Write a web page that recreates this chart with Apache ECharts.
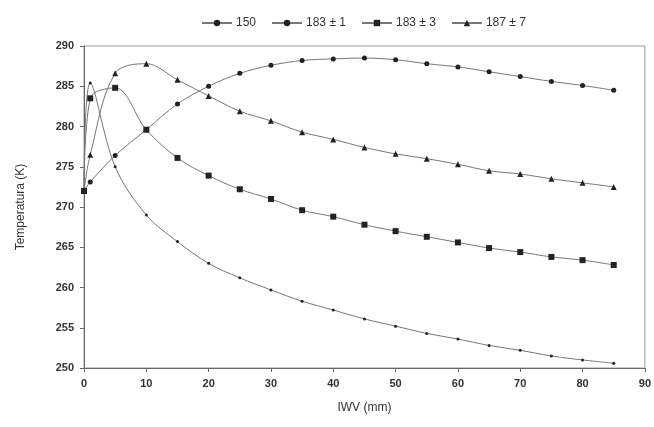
<!DOCTYPE html>
<html>
<head>
<meta charset="utf-8">
<script src="https://cdn.jsdelivr.net/npm/echarts@6/dist/echarts.min.js"></script>
<style>html,body{margin:0;padding:0;background:#fff}#c{width:654px;height:427px}</style>
</head>
<body>
<div id="c"></div>
<script>
var xs = [0, 1, 5, 10, 15, 20, 25, 30, 35, 40, 45, 50, 55, 60, 65, 70, 75, 80, 85];
var seriesNames = ['150', '183 ± 1', '183 ± 3', '187 ± 7'];
var s150 =  [272.0, 273.1, 276.4, 279.6, 282.8, 285.0, 286.6, 287.6, 288.2, 288.4, 288.5, 288.3, 287.8, 287.4, 286.8, 286.2, 285.6, 285.1, 284.5];
var s183a = [272.0, 285.4, 275.0, 269.0, 265.7, 263.0, 261.2, 259.7, 258.3, 257.2, 256.1, 255.2, 254.3, 253.6, 252.8, 252.2, 251.5, 251.0, 250.6];
var s183b = [272.0, 283.5, 284.8, 279.6, 276.1, 273.9, 272.2, 271.0, 269.6, 268.8, 267.8, 267.0, 266.3, 265.6, 264.9, 264.4, 263.8, 263.4, 262.8];
var s187 =  [272.0, 276.5, 286.6, 287.8, 285.8, 283.8, 281.9, 280.7, 279.3, 278.4, 277.4, 276.6, 276.0, 275.3, 274.5, 274.1, 273.5, 273.0, 272.5];
var xTicks = [0, 10, 20, 30, 40, 50, 60, 70, 80, 90];
var yTicks = [250, 255, 260, 265, 270, 275, 280, 285, 290];

function pairs(v) { return xs.map(function (x, i) { return [x, v[i]]; }); }
var symbols = ['circle', 'circle', 'rect', 'triangle'];
var sizes = [5, 3, 6, 6];
var vals = [s150, s183a, s183b, s187];
var font = 'Liberation Sans, Arial, sans-serif';

var chart = echarts.init(document.getElementById('c'), null, {renderer: 'canvas'});
chart.setOption({
  animation: false,
  backgroundColor: '#fff',
  legend: {
    top: 12, left: 196,
    itemWidth: 30, itemHeight: 8, itemGap: 15,
    textStyle: {fontFamily: font, fontSize: 12, color: '#333', padding: [0, 0, 0, -1]},
    data: seriesNames
  },
  grid: {left: 84, right: 9, top: 46, bottom: 59, show: true, borderColor: '#999', borderWidth: 1},
  xAxis: {
    type: 'value', min: xTicks[0], max: xTicks[xTicks.length - 1], interval: 10,
    name: 'IWV (mm)', nameLocation: 'middle', nameGap: 34,
    nameTextStyle: {fontFamily: font, fontSize: 12, color: '#333'},
    axisLine: {lineStyle: {color: '#666'}},
    axisTick: {show: true, length: 4, lineStyle: {color: '#666'}},
    axisLabel: {fontFamily: font, fontSize: 11, color: '#333', fontWeight: 'bold', margin: 10},
    splitLine: {show: false}
  },
  yAxis: {
    type: 'value', min: yTicks[0], max: yTicks[yTicks.length - 1], interval: 5,
    name: 'Temperatura (K)', nameLocation: 'middle', nameGap: 57,
    nameTextStyle: {fontFamily: font, fontSize: 12, color: '#333'},
    axisLine: {show: true, lineStyle: {color: '#666'}},
    axisTick: {show: true, length: 4, lineStyle: {color: '#666'}},
    axisLabel: {fontFamily: font, fontSize: 11, color: '#333', fontWeight: 'bold', margin: 10},
    splitLine: {show: false}
  },
  series: seriesNames.map(function (n, i) {
    return {
      name: n, type: 'line', data: pairs(vals[i]),
      smooth: 0.35,
      symbol: symbols[i], symbolSize: sizes[i], showAllSymbol: true,
      lineStyle: {color: '#777', width: 1},
      itemStyle: {color: '#222'}
    };
  })
});
</script>
</body>
</html>
